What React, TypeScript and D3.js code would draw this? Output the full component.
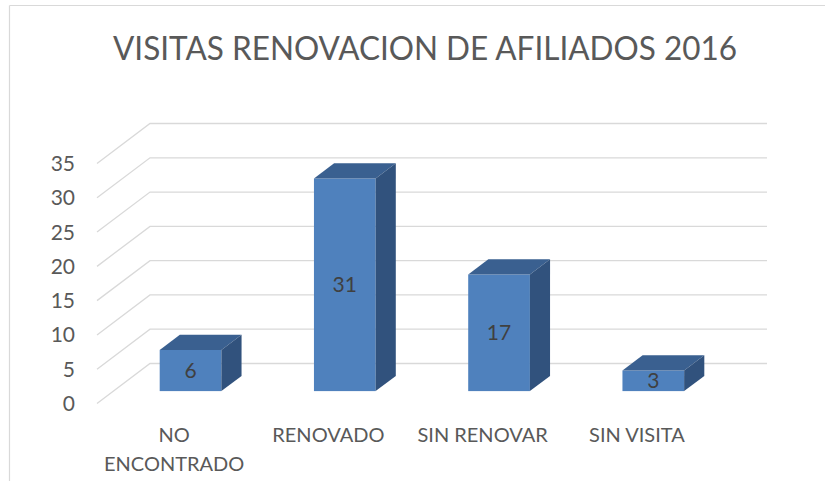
import React from "react";
import * as d3 from "d3";

const categories = ["NO ENCONTRADO", "RENOVADO", "SIN RENOVAR", "SIN VISITA"];
const categoryLines = [["NO", "ENCONTRADO"], ["RENOVADO"], ["SIN RENOVAR"], ["SIN VISITA"]];
const values = [6, 31, 17, 3];
const yTicks = [0, 5, 10, 15, 20, 25, 30, 35];
const title = "VISITAS RENOVACION DE AFILIADOS 2016";

const W = 825;
const H = 481;
const FONT = "Lato, 'Open Sans', 'DejaVu Sans', sans-serif";

export default function App() {
  // front plane geometry
  const floorLeft = 97;
  const floorRight = 714;
  const depthDX = 53;
  const depthDY = -40;
  const d0 = 0.31;
  const d1 = 0.69;

  const x = d3
    .scaleBand<string>()
    .domain(categories)
    .range([floorLeft, floorRight])
    .paddingInner(0.6)
    .paddingOuter(0.3);
  const y = d3.scaleLinear().domain([0, 35]).range([403.5, 163.5]);

  const bw = x.bandwidth();
  const bdx = depthDX * (d1 - d0);
  const bdy = depthDY * (d1 - d0);

  const gridColor = "#d9d9d9";
  const textColor = "#595959";

  return (
    <svg
      width={W}
      height={H}
      style={{ position: "fixed", left: 0, top: 0, background: "#fff" }}
      fontFamily={FONT}
    >
      <rect x={0} y={0} width={W} height={H} fill="#fff" />
      {/* outer border */}
      <line x1={9.5} y1={5.5} x2={W} y2={5.5} stroke="#d9d9d9" strokeWidth={1.2} />
      <line x1={9.5} y1={5.5} x2={9.5} y2={H} stroke="#d9d9d9" strokeWidth={1.2} />

      <text
        x={113}
        y={60}
        fontSize={32}
        fontWeight={400}
        fill={textColor}
        textLength={624}
        lengthAdjust="spacingAndGlyphs"
      >
        {title}
      </text>

      {/* gridlines: side wall diagonals + back wall horizontals */}
      {yTicks.map((t) => {
        const yf = y(t);
        const xb = floorLeft + depthDX;
        const yb = yf + depthDY;
        return (
          <g key={t}>
            <path
              d={`M${floorLeft},${yf}L${xb},${yb}L${floorRight + depthDX},${yb}`}
              fill="none"
              stroke={gridColor}
              strokeWidth={1.3}
            />
            <text
              x={75}
              y={yf}
              dy="0.36em"
              textAnchor="end"
              fontSize={21}
              fill={textColor}
            >
              {t}
            </text>
          </g>
        );
      })}

      {/* bars */}
      {categories.map((c, i) => {
        const v = values[i];
        const x0 = (x(c) as number) + depthDX * d0;
        const x1 = x0 + bw;
        const yTop = y(v) + depthDY * d0;
        const yBot = y(0) + depthDY * d0;
        return (
          <g key={c}>
            <rect x={x0} y={yTop} width={bw} height={yBot - yTop} fill="#4f81bd" />
            <polygon
              points={`${x0},${yTop} ${x1},${yTop} ${x1 + bdx},${yTop + bdy} ${x0 + bdx},${yTop + bdy}`}
              fill="#3a6090"
            />
            <polygon
              points={`${x1},${yTop} ${x1 + bdx},${yTop + bdy} ${x1 + bdx},${yBot + bdy} ${x1},${yBot}`}
              fill="#31527d"
            />
            <text
              x={(x0 + x1) / 2}
              y={(yTop + yBot) / 2}
              dy="0.36em"
              textAnchor="middle"
              fontSize={21}
              fill="#404040"
            >
              {v}
            </text>
          </g>
        );
      })}

      {/* category labels */}
      {categories.map((c, i) => {
        const cx = (x(c) as number) + bw / 2;
        return (
          <text key={c} textAnchor="middle" fontSize={20} fill={textColor}>
            {categoryLines[i].map((ln, j) => (
              <tspan key={j} x={cx} y={442 + j * 29}>
                {ln}
              </tspan>
            ))}
          </text>
        );
      })}
    </svg>
  );
}
